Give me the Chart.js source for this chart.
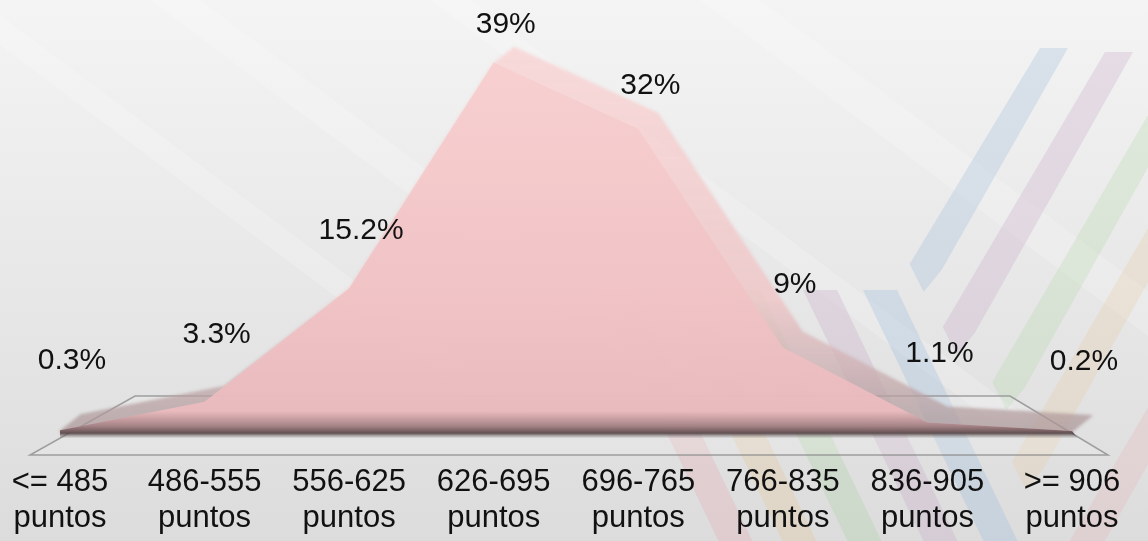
<!DOCTYPE html>
<html>
<head>
<meta charset="utf-8">
<style>
  html, body { margin: 0; padding: 0; background: #ebebeb; }
  #wrap { width: 1148px; height: 541px; }
</style>
<script src="https://cdn.jsdelivr.net/npm/chart.js"></script>
</head>
<body>
<div id="wrap"><canvas id="chart" width="1148" height="541"></canvas></div>
<script>
// Distribución de puntajes
const categories = [
  ["<= 485", "puntos"],
  ["486-555", "puntos"],
  ["556-625", "puntos"],
  ["626-695", "puntos"],
  ["696-765", "puntos"],
  ["766-835", "puntos"],
  ["836-905", "puntos"],
  [">= 906", "puntos"]
];
const shares = [0.3, 3.3, 15.2, 39, 32, 9, 1.1, 0.2];
const shareLabels = ["0.3%", "3.3%", "15.2%", "39%", "32%", "9%", "1.1%", "0.2%"];

const FONT = '"Liberation Sans", Arial, sans-serif';

// background: grey gradient, light streaks and coloured stripes
const backdrop = {
  id: "backdrop",
  beforeDraw(chart) {
    const { ctx, width, height } = chart;
    ctx.save();
    const g = ctx.createLinearGradient(0, 0, 0, height);
    g.addColorStop(0, "#f4f4f4");
    g.addColorStop(1, "#dcdcdc");
    ctx.fillStyle = g;
    ctx.fillRect(0, 0, width, height);

    // soft white streaks
    ctx.fillStyle = "rgba(255,255,255,0.18)";
    [[-60, 40], [150, 50], [430, 40], [700, 60]].forEach(([x0, w]) => {
      ctx.beginPath();
      ctx.moveTo(x0, 0);
      ctx.lineTo(x0 + w, 0);
      ctx.lineTo(x0 + w + 560, 420);
      ctx.lineTo(x0 + 560, 420);
      ctx.closePath();
      ctx.fill();
    });

    // "/" stripes top right
    const up = [
      ["rgba(160,190,220,0.3)", 1040, 48, 282],
      ["rgba(200,170,200,0.3)", 1105, 52, 345],
      ["rgba(170,210,160,0.25)", 1180, 60, 400],
      ["rgba(230,200,150,0.25)", 1205, 130, 480],
      ["rgba(230,170,180,0.25)", 1240, 250, 570]
    ];
    up.forEach(([c, x, y0, y1]) => {
      const k = 0.54, w = 28;
      ctx.fillStyle = c;
      ctx.beginPath();
      ctx.moveTo(x, y0);
      ctx.lineTo(x + w, y0);
      ctx.lineTo(x + w - k * (y1 - y0), y1 - 12);
      ctx.lineTo(x - k * (y1 - y0) + 10, y1 + 10);
      ctx.lineTo(x - k * (y1 - y0) - 4, y1 - 18);
      ctx.closePath();
      ctx.fill();
    });

    // "\" stripes bottom middle
    const down = [
      ["rgba(230,170,180,0.3)", 598],
      ["rgba(230,200,150,0.3)", 662],
      ["rgba(170,210,160,0.3)", 727],
      ["rgba(200,170,200,0.32)", 803],
      ["rgba(160,190,220,0.32)", 863]
    ];
    down.forEach(([c, x]) => {
      const y0 = 290, k = 0.48, w = 34;
      ctx.fillStyle = c;
      ctx.beginPath();
      ctx.moveTo(x, y0);
      ctx.lineTo(x + w, y0);
      ctx.lineTo(x + w + k * (height - y0), height);
      ctx.lineTo(x + k * (height - y0), height);
      ctx.closePath();
      ctx.fill();
    });
    ctx.restore();
  }
};

// floor of the 3D plot and the depth face behind the area
const floor = {
  id: "floor",
  beforeDatasetsDraw(chart) {
    const { ctx, chartArea: a } = chart;
    ctx.save();
    ctx.fillStyle = "rgba(255,255,255,0.15)";
    ctx.strokeStyle = "rgba(140,140,140,0.8)";
    ctx.lineWidth = 1.5;
    ctx.beginPath();
    ctx.moveTo(a.left - 30, a.bottom + 22);
    ctx.lineTo(a.right + 36, a.bottom + 22);
    ctx.lineTo(a.right - 62, a.bottom - 37);
    ctx.lineTo(a.left + 75, a.bottom - 37);
    ctx.closePath();
    ctx.fill();
    ctx.stroke();

    // extrude the area backwards (up and right)
    const pts = chart.getDatasetMeta(0).data;
    const base = chart.scales.y.getPixelForValue(0);
    const dx = 20, dy = -16, steps = 12;
    ctx.beginPath();
    for (let s = 0; s <= steps; s++) {
      const ox = dx * s / steps, oy = dy * s / steps;
      ctx.moveTo(pts[0].x + ox, base + oy);
      pts.forEach(p => ctx.lineTo(p.x + ox, p.y + oy));
      ctx.lineTo(pts[pts.length - 1].x + ox, base + oy);
      ctx.closePath();
    }
    const g = ctx.createLinearGradient(0, a.top, 0, base);
    g.addColorStop(0, "rgba(248,214,214,0.9)");
    g.addColorStop(0.65, "rgba(238,198,200,0.85)");
    g.addColorStop(0.82, "rgba(205,175,177,0.75)");
    g.addColorStop(1, "rgba(165,145,147,0.7)");
    ctx.fillStyle = g;
    ctx.filter = "blur(1.5px)";
    ctx.fill("nonzero");
    ctx.restore();
  }
};

// dark front edge and value labels
const front = {
  id: "front",
  afterDatasetsDraw(chart) {
    const { ctx, chartArea: a } = chart;
    const pts = chart.getDatasetMeta(0).data;
    const base = chart.scales.y.getPixelForValue(0);
    const peak = chart.scales.y.getPixelForValue(Math.max(...shares));
    ctx.save();
    ctx.beginPath();
    ctx.moveTo(pts[0].x, pts[0].y);
    pts.forEach(p => ctx.lineTo(p.x, p.y));
    ctx.lineTo(pts[pts.length - 1].x + 6, base + 5);
    ctx.lineTo(pts[0].x, base + 5);
    ctx.closePath();
    ctx.clip();
    const g = ctx.createLinearGradient(0, base - 22, 0, base + 5);
    g.addColorStop(0, "rgba(120,90,92,0)");
    g.addColorStop(0.55, "rgba(100,78,80,0.5)");
    g.addColorStop(0.82, "rgba(75,60,62,0.85)");
    g.addColorStop(1, "rgba(120,110,110,0.1)");
    ctx.fillStyle = g;
    ctx.fillRect(a.left - 10, base - 22, a.width + 20, 27);
    ctx.restore();

    ctx.save();
    ctx.font = "30px " + FONT;
    ctx.fillStyle = "#111";
    ctx.textAlign = "center";
    ctx.textBaseline = "middle";
    pts.forEach((p, i) => {
      const f = (base - p.y) / (base - peak);
      const off = 70 - 32 * f;
      ctx.fillText(shareLabels[i], p.x + 12, p.y - off);
    });
    ctx.restore();
  }
};

const ctx = document.getElementById("chart").getContext("2d");
const fillGrad = ctx.createLinearGradient(0, 50, 0, 440);
fillGrad.addColorStop(0, "rgba(248,208,208,0.94)");
fillGrad.addColorStop(1, "rgba(236,186,190,0.9)");

new Chart(ctx, {
  type: "line",
  data: {
    labels: categories,
    datasets: [{
      data: shares,
      fill: "origin",
      clip: false,
      backgroundColor: fillGrad,
      borderWidth: 0,
      borderColor: "rgba(0,0,0,0)",
      pointRadius: 0,
      tension: 0
    }]
  },
  options: {
    responsive: false,
    animation: false,
    layout: { padding: { left: 60, right: 76, top: 53, bottom: 0 } },
    plugins: { legend: { display: false }, tooltip: { enabled: false } },
    scales: {
      x: {
        offset: false,
        grid: { display: false, drawTicks: false },
        border: { display: false },
        afterFit(scale) {
          scale.height = 108;
          scale.paddingLeft = 0;
          scale.paddingRight = 0;
        },
        ticks: {
          color: "#111",
          padding: 31,
          maxRotation: 0,
          autoSkip: false,
          font: { family: FONT, size: 31, lineHeight: 1.18 }
        }
      },
      y: {
        display: false,
        min: 0,
        max: 40
      }
    }
  },
  plugins: [backdrop, floor, front]
});
</script>
</body>
</html>
